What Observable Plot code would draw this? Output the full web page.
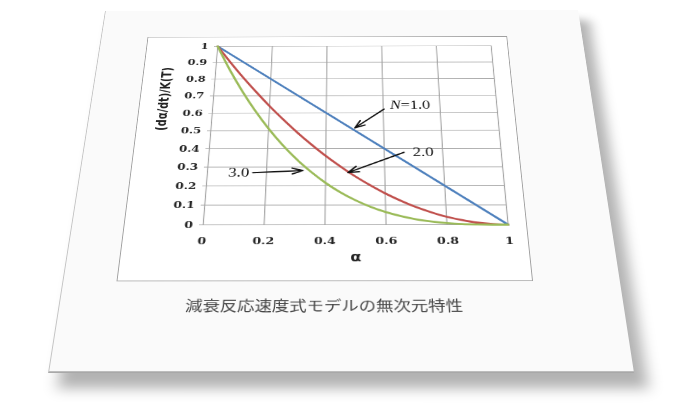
<!DOCTYPE html>
<html><head><meta charset="utf-8">
<script src="https://cdn.jsdelivr.net/npm/d3@7"></script>
<script src="https://cdn.jsdelivr.net/npm/@observablehq/plot@0.6"></script>
<style>
html,body{margin:0;padding:0;background:#fff;width:700px;height:410px;overflow:hidden;}
#paper{position:absolute;left:0;top:0;background:#fafafa;transform-origin:0 0;box-shadow:12px 18px 14px rgba(0,0,0,0.30);border-left:1px solid #c4c4c4;border-bottom:2px solid #a8a8a8;box-sizing:border-box;}
#frame{position:absolute;border:1px solid #a0a0a0;box-sizing:border-box;background:#fff;}
#chart{position:absolute;}
#caption{position:absolute;font-family:"Noto Sans CJK JP";font-size:18px;color:#474747;white-space:nowrap;transform:translate(-50%,-50%);}
#chart [aria-label="y-axis tick label"], #chart [aria-label="x-axis tick label"]{font-family:"DejaVu Serif";font-weight:bold;font-size:13.5px;}
</style></head><body>
<div id="paper"><div id="frame"></div><div id="chart"></div><div id="caption">減衰反応速度式モデルの無次元特性</div></div>
<script>
// ---- data ----
const alpha = [0,0.05,0.1,0.15,0.2,0.25,0.3,0.35,0.4,0.45,0.5,0.55,0.6,0.65,0.7,0.75,0.8,0.85,0.9,0.95,1];
const rateN1 = [1,0.95,0.9,0.85,0.8,0.75,0.7,0.65,0.6,0.55,0.5,0.45,0.4,0.35,0.3,0.25,0.2,0.15,0.1,0.05,0];
const rateN2 = [1,0.903,0.81,0.723,0.64,0.563,0.49,0.423,0.36,0.303,0.25,0.203,0.16,0.123,0.09,0.063,0.04,0.023,0.01,0.003,0];
const rateN3 = [1,0.857,0.729,0.614,0.512,0.422,0.343,0.275,0.216,0.166,0.125,0.091,0.064,0.043,0.027,0.016,0.008,0.003,0.001,0,0];
const seriesColors = ["#4f81bd","#c0504d","#9bbb59"];
const xTicks = [0,0.2,0.4,0.6,0.8,1];
const yTicks = [0,0.1,0.2,0.3,0.4,0.5,0.6,0.7,0.8,0.9,1];
const xLabel = "α";
const yLabel = "(dα/dt)/K(T)";
// annotations
const noteText = ["=1.0","2.0","3.0"];
const noteX = [0.662,0.697,0.142];
const noteY = [0.644,0.38,0.27];
const arrowX1 = [0.603,0.667,0.154];
const arrowY1 = [0.622,0.379,0.27];
const arrowX2 = [0.50,0.476,0.323];
const arrowY2 = [0.515,0.27,0.281];

// ---- perspective sheet ----
const W = 586, H = 526;
const quad = [[105,11],[578,10],[634,373],[48,373]];
function squareToQuad(p){
  const [x0,y0]=p[0],[x1,y1]=p[1],[x2,y2]=p[2],[x3,y3]=p[3];
  const sx=x0-x1+x2-x3, sy=y0-y1+y2-y3;
  const dx1=x1-x2, dx2=x3-x2, dy1=y1-y2, dy2=y3-y2;
  const det=dx1*dy2-dx2*dy1;
  const g=(sx*dy2-dx2*sy)/det, h=(dx1*sy-sx*dy1)/det;
  return {a:(x1-x0+g*x1)/W, b:(x3-x0+h*x3)/H, c:x0, d:(y1-y0+g*y1)/W, e:(y3-y0+h*y3)/H, f:y0, g:g/W, h:h/H};
}
const M = squareToQuad(quad);
function inv([X,Y]){
  const a11=M.a-M.g*X, a12=M.b-M.h*X, r1=X-M.c;
  const a21=M.d-M.g*Y, a22=M.e-M.h*Y, r2=Y-M.f;
  const det=a11*a22-a12*a21;
  return [(r1*a22-a12*r2)/det,(a11*r2-a21*r1)/det];
}
const paper = document.getElementById("paper");
paper.style.width = W+"px"; paper.style.height = H+"px";
paper.style.transform = `matrix3d(${M.a},${M.d},0,${M.g},${M.b},${M.e},0,${M.h},0,0,1,0,${M.c},${M.f},0,1)`;

const fTL = inv([147,37]), fBR = inv([532,281]);
const pTL = inv([216.7,46]), pBR = inv([506.7,224]);
const cap = inv([323,305]);
const fl=Math.round(fTL[0]), ft=Math.round(fTL[1]), fr=Math.round(fBR[0]), fb=Math.round(fBR[1]);
const pl=Math.round(pTL[0]), pt=Math.round(pTL[1]), pr=Math.round(pBR[0]), pb=Math.round(pBR[1]);
const frame = document.getElementById("frame");
Object.assign(frame.style,{left:fl+"px",top:ft+"px",width:(fr-fl)+"px",height:(fb-ft)+"px"});
const capEl = document.getElementById("caption");
Object.assign(capEl.style,{left:cap[0]+"px",top:cap[1]+"px"});

const idx = d3.range(noteText.length);
const serif = "Liberation Serif";
const chart = Plot.plot({
  width: fr-fl, height: fb-ft,
  marginLeft: pl-fl, marginTop: pt-ft, marginRight: fr-pr, marginBottom: fb-pb,
  x:{domain:[0,1]}, y:{domain:[0,1]},
  style:{background:"transparent", overflow:"visible", color:"#222"},
  marks:[
    Plot.ruleX(xTicks,{stroke:"#a4a4a4", strokeWidth:1.2}),
    Plot.ruleY(yTicks,{stroke:"#a4a4a4", strokeWidth:1.2}),
    Plot.axisY({ticks:yTicks, tickSize:4, tickPadding:7, tickFormat:d=>String(d), stroke:"#a4a4a4", fill:"#262626", label:null}),
    Plot.axisX({ticks:xTicks, tickSize:0, tickPadding:17, tickFormat:d=>String(d), fill:"#262626", label:null}),
    Plot.line(alpha,{x:alpha, y:rateN1, stroke:seriesColors[0], strokeWidth:2.8, curve:"catmull-rom"}),
    Plot.line(alpha,{x:alpha, y:rateN2, stroke:seriesColors[1], strokeWidth:2.8, curve:"catmull-rom"}),
    Plot.line(alpha,{x:alpha, y:rateN3, stroke:seriesColors[2], strokeWidth:2.8, curve:"catmull-rom"}),
    Plot.arrow(idx,{x1:arrowX1, y1:arrowY1, x2:arrowX2, y2:arrowY2, stroke:"#111", strokeWidth:1.9, headLength:10, headAngle:40}),
    Plot.text([0],{x:[noteX[0]], y:[noteY[0]], text:["N"], textAnchor:"end", fontStyle:"italic", fontFamily:serif, fontSize:19, fill:"#111"}),
    Plot.text([0,1],{x:noteX.slice(0,2), y:noteY.slice(0,2), text:noteText.slice(0,2), textAnchor:"start", fontFamily:serif, fontSize:19, fill:"#111"}),
    Plot.text([2],{x:[noteX[2]], y:[noteY[2]], text:[noteText[2]], textAnchor:"end", fontFamily:serif, fontSize:19, fill:"#111"}),
    Plot.text([xLabel],{frameAnchor:"bottom", text:[xLabel], dy:49, fontFamily:"DejaVu Sans", fontWeight:"bold", fontSize:17, fill:"#222"}),
    Plot.text([yLabel],{frameAnchor:"left", text:[yLabel], dx:-57, rotate:-90, fontFamily:"DejaVu Sans", fontWeight:"bold", fontSize:15.5, fill:"#222"})
  ]
});
const holder = document.getElementById("chart");
Object.assign(holder.style,{left:fl+"px",top:ft+"px"});
holder.appendChild(chart);
</script></body></html>
